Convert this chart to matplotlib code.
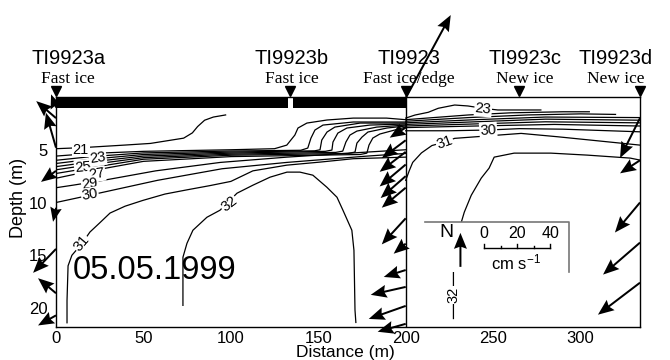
import numpy as np
import matplotlib.pyplot as plt
from matplotlib.patches import Rectangle

plt.rcParams['font.family'] = ['Liberation Sans', 'DejaVu Sans']
plt.rcParams['mathtext.default'] = 'regular'

# stations along the transect (distance in m)
station_names = ["TI9923a", "TI9923b", "TI9923", "TI9923c", "TI9923d"]
station_ice = ["Fast ice", "Fast ice", "Fast ice/edge", "New ice", "New ice"]
station_dist = [0, 134, 200, 265, 334]
label_dist = [7, 135, 202, 268, 320]

fast_ice_end = 200
fast_ice_gap = (132.5, 135.5)
ice_thickness = 1.0

# isohalines, (distance m, depth m) -- left section 0-200 m
iso21 = [(0, 4.9), (15, 4.8), (40, 4.55), (54, 4.4), (73, 3.9), (78, 3.4), (81, 2.8),
         (85, 2.2), (90, 1.9), (97, 1.7)]
iso22 = [(0, 5.6), (20, 5.35), (50, 5.15), (100, 5.0), (125, 4.9), (132, 4.56), (136.6, 3.61),
         (138.4, 2.94), (143.5, 2.47), (155, 2.18), (170, 2.0), (189, 2.0), (200, 2.15)]
iso23 = [(0, 6.0), (20, 5.65), (50, 5.3), (100, 5.12), (140, 5.05), (144, 4.84), (145.8, 3.9),
         (148.1, 3.13), (152.7, 2.66), (170, 2.37), (200, 2.37)]
iso24 = [(0, 6.3), (20, 5.9), (50, 5.45), (100, 5.22), (148, 5.1), (151, 5.0), (152, 4.08),
         (155, 3.32), (159.5, 2.85), (174, 2.47), (200, 2.47)]
iso25 = [(0, 6.6), (20, 6.15), (50, 5.6), (100, 5.32), (154, 5.15), (157.8, 5.03), (158.4, 4.27),
         (161.2, 3.42), (166.4, 2.94), (179.5, 2.66), (200, 2.56)]
iso26 = [(0, 6.9), (20, 6.4), (50, 5.75), (100, 5.42), (160, 5.25), (164, 5.13), (165.8, 4.27),
         (168.1, 3.61), (172.1, 3.23), (183.5, 2.85), (200, 2.66)]
iso27 = [(0, 7.25), (20, 6.7), (50, 5.9), (100, 5.52), (167, 5.35), (171, 5.22), (172.1, 4.37),
         (175, 3.8), (178.4, 3.32), (189.3, 2.94), (200, 2.75)]
iso28 = [(0, 7.7), (20, 7.0), (50, 6.1), (100, 5.65), (174, 5.45), (177.8, 5.32), (179, 4.56),
         (181.2, 3.89), (185.2, 3.51), (200, 2.85)]
iso29 = [(0, 8.6), (10, 8.35), (27, 7.9), (57, 7.0), (94, 6.2), (132, 5.7), (170, 5.3), (200, 5.0)]
iso30 = [(0, 10.0), (14, 9.5), (25, 9.1), (58, 7.9), (95, 6.8), (132, 6.2), (178, 5.6), (200, 5.35)]
iso31 = [(6.3, 21.4), (6.3, 19.3), (6.9, 16.0), (9.1, 15.0), (14.8, 13.9), (19.4, 12.8),
         (25.2, 11.9), (30.9, 11.0), (39.5, 10.35), (49.7, 9.8), (62.3, 9.2), (74.9, 8.8),
         (88, 8.4), (100, 8.0), (112.6, 7.0), (132, 6.46), (151, 6.17), (170, 5.85), (200, 5.7)]
iso32 = [(72.6, 19.75), (72.6, 15.19), (74.9, 13.87), (78.3, 12.63), (86.3, 11.4), (93.8, 10.73),
         (103.5, 9.12), (112.6, 8.36), (122.4, 7.6), (132.1, 7.12), (139.5, 7.12), (146.9, 7.41),
         (154.9, 8.55), (160.7, 9.5), (164.1, 10.73), (169.2, 12.63), (170.4, 14.53), (171, 20.2),
         (171.5, 21.37)]

# right section 200-334 m
iso23r = [(200, 2.0), (205.3, 1.71), (212.9, 1.45), (218.6, 1.07), (228, 0.76), (235.6, 0.85),
          (244.1, 1.07), (252.7, 1.23), (277.3, 1.23)]
iso24r = [(200, 2.15), (220, 1.9), (236, 1.7), (260, 1.5), (290, 1.4), (305, 1.4)]
iso25r = [(200, 2.3), (236, 1.95), (270, 1.7), (300, 1.6), (320, 1.65)]
iso26r = [(200, 2.45), (240, 2.15), (280, 1.9), (334, 1.95)]
iso27r = [(200, 2.6), (240, 2.35), (280, 2.1), (334, 2.2)]
iso28r = [(200, 2.75), (240, 2.55), (280, 2.35), (334, 2.45)]
iso29r = [(200, 2.9), (240, 2.75), (285, 2.6), (334, 2.75)]
iso30r = [(200, 3.2), (225, 3.2), (247, 3.13), (265, 3.0), (290, 3.05), (334, 3.3)]
iso31r = [(200, 7.9), (202, 7.0), (204, 6.2), (209, 5.3), (215, 4.6), (222.2, 4.27), (228, 3.92),
          (266, 3.45), (287, 3.77), (334, 4.56)]
iso32r = [(334, 5.98), (328.4, 5.79), (304, 5.51), (283, 5.32), (262, 5.32), (250.6, 5.7),
          (247.7, 6.74), (243.2, 7.69), (237.5, 9.31), (233.5, 10.92), (231.8, 11.87),
          (229, 14.5), (227.3, 16.6), (227.3, 21.0)]

isohalines = [iso21, iso22, iso23, iso24, iso25, iso26, iso27, iso28, iso29, iso30, iso31, iso32,
              iso23r, iso24r, iso25r, iso26r, iso27r, iso28r, iso29r, iso30r, iso31r, iso32r]

# contour labels: text, distance, depth, rotation
iso_labels = [("21", 14.2, 5.0, 0), ("23", 23.9, 5.8, 8), ("25", 15.4, 6.65, 5),
              ("27", 23.3, 7.3, 8), ("29", 19.4, 8.2, 8), ("30", 19.4, 9.3, 10),
              ("31", 14.8, 13.9, 50), ("32", 98.9, 10.1, 38),
              ("23", 244.3, 1.14, -6), ("30", 247.2, 3.13, 4), ("31", 222.2, 4.27, 20),
              ("32", 227.3, 18.8, 90)]

# current vectors (cm/s, u east, v north) at each station
cur_a_depth = [1.0, 2.0, 4.8, 7.0, 10.5, 14.4, 18.6, 20.7]
cur_a_u = [-3.0, -12.0, -6.1, -9.1, -1.8, -13.9, -10.9, -10.9]
cur_a_v = [8.0, 10.3, 21.2, -6.7, -8.5, -14.5, 9.1, -6.1]

cur_e_depth = [0.1, 2.9, 4.1, 5.2, 6.4, 7.5, 8.6, 11.5, 13.9, 16.4, 18.0, 19.8, 21.5]
cur_e_u = [27.3, -9.7, -14.5, -15.8, -15.8, -15.2, -14.5, -14.5, -7.3, -13.3, -21.2, -22.4, -17.0]
cur_e_v = [50.3, -6.1, -10.9, -12.1, -13.3, -13.3, -12.1, -15.8, -6.1, -4.2, -4.8, -7.9, -4.8]

cur_d_depth = [2.0, 6.0, 10.0, 13.8, 17.6]
cur_d_u = [-12.1, -12.1, -15.2, -22.4, -25.5]
cur_d_v = [-24.2, -7.9, -18.2, -19.4, -19.4]

scale_ticks = [0, 10, 20, 30, 40]
scale_labels = [0, 20, 40]
north_speed = 20.6

fig = plt.figure(figsize=(6.7, 3.6), dpi=100)
ax = fig.add_axes([56 / 670, 33 / 360, 584 / 670, 230 / 360])
ax.set_xlim(0, 334)
ax.set_ylim(21.8, 0)

for line in isohalines:
    xs, ds = zip(*line)
    ax.plot(xs, ds, color='k', lw=0.9, zorder=2)

for txt, x, d, rot in iso_labels:
    ax.text(x, d, txt, fontsize=10.5, rotation=rot, ha='center', va='center', zorder=4,
            rotation_mode='anchor',
            bbox=dict(boxstyle='square,pad=0.05', fc='white', ec='none'))

ax.axvline(200, color='k', lw=1.0, zorder=3)

# fast ice bar
ax.fill_between([0, fast_ice_gap[0]], 0, ice_thickness, color='k', lw=0, zorder=4)
ax.fill_between([fast_ice_gap[1], fast_ice_end], 0, ice_thickness, color='k', lw=0, zorder=4)

# station markers and names
for name, ice, x, lx in zip(station_names, station_ice, station_dist, label_dist):
    ax.plot(x, -0.55, marker='v', color='k', ms=7, clip_on=False, zorder=6)
    ax.text(lx, -3.1, name, fontsize=14.5, ha='center', va='baseline', clip_on=False)
    ax.text(lx, -1.35, ice, fontsize=12.5, family='Liberation Serif', ha='center',
            va='baseline', clip_on=False)

# legend box
box_x0, box_x1 = 210.8, 293.2
box_d0, box_d1 = 11.87, 16.6
ax.add_patch(Rectangle((box_x0, box_d0), box_x1 - box_x0, box_d1 - box_d0, fc='white',
                       ec='none', zorder=3))
ax.plot([box_x0, box_x1, box_x1], [box_d0, box_d0, box_d1], color='#777777', lw=1.2, zorder=3)

qscale = 40 / 0.66  # cm/s per inch
qkw = dict(angles='uv', scale_units='inches', scale=qscale, units='inches', width=0.02,
           headwidth=6.5, headlength=8, headaxislength=7, color='k', zorder=5)
for dist, depths, us, vs in [(0, cur_a_depth, cur_a_u, cur_a_v),
                             (200, cur_e_depth, cur_e_u, cur_e_v),
                             (334, cur_d_depth, cur_d_u, cur_d_v)]:
    q = ax.quiver([dist] * len(depths), depths, us, vs, **qkw)
    q.set_clip_on(False)

# north arrow and scale bar
ax.quiver([231.3], [16.1], [0], [north_speed], **qkw)
ax.text(223.5, 12.8, "N", fontsize=14, ha='center', va='center', zorder=6)
ax_w_in = 6.7 * 584 / 670
m_per_cms = (334 / ax_w_in) / qscale
bar_x0, bar_d = 244.9, 14.34
bar_x = [bar_x0 + s * m_per_cms for s in scale_ticks]
ax.plot([bar_x[0], bar_x[-1]], [bar_d, bar_d], color='k', lw=1.0, zorder=6)
for s, bx in zip(scale_ticks, bar_x):
    h = 0.45 if s in scale_labels else 0.25
    ax.plot([bx, bx], [bar_d, bar_d - h], color='k', lw=1.0, zorder=6)
for s in scale_labels:
    ax.text(bar_x0 + s * m_per_cms, 12.9, str(s), fontsize=11.5, ha='center', va='center', zorder=6)
ax.text(263, 15.7, "cm s$^{-1}$", fontsize=12, ha='center', va='center', zorder=6)

ax.text(56.3, 16.4, "05.05.1999", fontsize=23.5, ha='center', va='center', zorder=6)

ax.set_xticks([0, 50, 100, 150, 200, 250, 300])
ax.set_yticks([5, 10, 15, 20])
ax.tick_params(length=0, labelsize=12)
ax.tick_params(axis='x', pad=3)
ax.tick_params(axis='y', pad=6)
for sp in ax.spines.values():
    sp.set_linewidth(1.0)

ax.set_xlabel("Distance (m)", fontsize=12.5)
ax.xaxis.set_label_coords(0.495, -0.08)
ax.set_ylabel("Depth (m)", fontsize=13)
ax.yaxis.set_label_coords(-0.049, 0.56)

fig.savefig("out.png", dpi=100)
